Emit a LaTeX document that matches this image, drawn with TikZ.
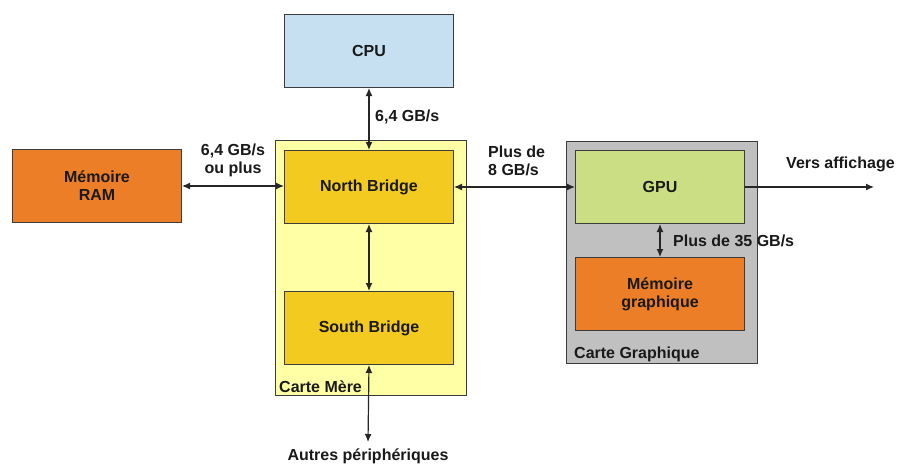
\documentclass[tikz,border=0pt]{standalone}
\usepackage{fontspec}
\setmainfont{Liberation Sans}
\usetikzlibrary{arrows.meta}
\definecolor{cpublue}{RGB}{198,224,242}
\definecolor{ramorange}{RGB}{236,126,40}
\definecolor{mbyellow}{RGB}{255,255,166}
\definecolor{bridgey}{RGB}{243,202,32}
\definecolor{cardgray}{RGB}{192,192,192}
\definecolor{gpugreen}{RGB}{204,222,132}
\definecolor{edgegray}{RGB}{60,60,60}
\begin{document}
\begin{tikzpicture}[x=1pt,y=-1pt,
  every node/.style={font=\fontsize{16}{18}\selectfont\bfseries, text=black!90},
  box/.style={draw=edgegray, line width=1pt, minimum width=169pt, minimum height=73pt, align=center, inner sep=0pt},
  card/.style={draw=edgegray, line width=1pt, inner sep=0pt},
  lbl/.style={align=left, inner sep=0pt},
  link/.style={line width=1.2pt, draw=black!85, {Latex[length=8pt,width=7pt]}-{Latex[length=8pt,width=7pt]}},
  olink/.style={line width=1.2pt, draw=black!85, -{Latex[length=8pt,width=7pt]}}]
\useasboundingbox (0,0) rectangle (900,466);
% containers
\node[card, fill=mbyellow, minimum width=191pt, minimum height=255pt, anchor=north west] (mb) at (275,140) {};
\node[card, fill=cardgray, minimum width=191pt, minimum height=222pt, anchor=north west] (gc) at (566,141) {};
% boxes
\node[box, fill=cpublue, anchor=north west] (cpu) at (284,14) {CPU};
\node[box, fill=ramorange, anchor=north west] (ram) at (12,149) {Mémoire\\RAM};
\node[box, fill=bridgey, anchor=north west] (nb) at (284,150) {North Bridge};
\node[box, fill=bridgey, anchor=north west] (sb) at (284,291) {South Bridge};
\node[box, fill=gpugreen, anchor=north west] (gpu) at (575,150) {GPU};
\node[box, fill=ramorange, anchor=north west] (gm) at (575,257) {Mémoire\\graphique};
% container labels
\node[lbl, anchor=south west] (mblbl) at (279,393) {Carte Mère};
\node[lbl, anchor=south west] (gclbl) at (574,362) {Carte Graphique};
% end points
\coordinate (disp) at (874,0);
\node[lbl, anchor=north] (periph) at (368,449) {Autres périphériques};
\coordinate (perend) at (368,442);
% connectors
\draw[link] (cpu.south) -- (nb.north);
\draw[link] (ram.east) -- (ram.east -| nb.west);
\draw[link] (nb.east) -- (gpu.west);
\draw[link] (nb.south) -- (sb.north);
\draw[link] (gpu.south) -- (gm.north);
\draw[link] (sb.south) -- (perend);
\draw[olink] (gpu.east) -- (gpu.east -| disp);
% connector labels
\node[lbl, anchor=west] (l1) at (375,117) {6,4 GB/s};
\node[align=center, inner sep=0pt] (l2) at (233,160) {6,4 GB/s\\ou plus};
\node[lbl, anchor=west] (l3) at (488,161) {Plus de\\8 GB/s};
\node[lbl, anchor=west] (l4) at (786,164) {Vers affichage};
\node[lbl, anchor=west] (l5) at (673,241) {Plus de 35 GB/s};
\end{tikzpicture}
\end{document}
